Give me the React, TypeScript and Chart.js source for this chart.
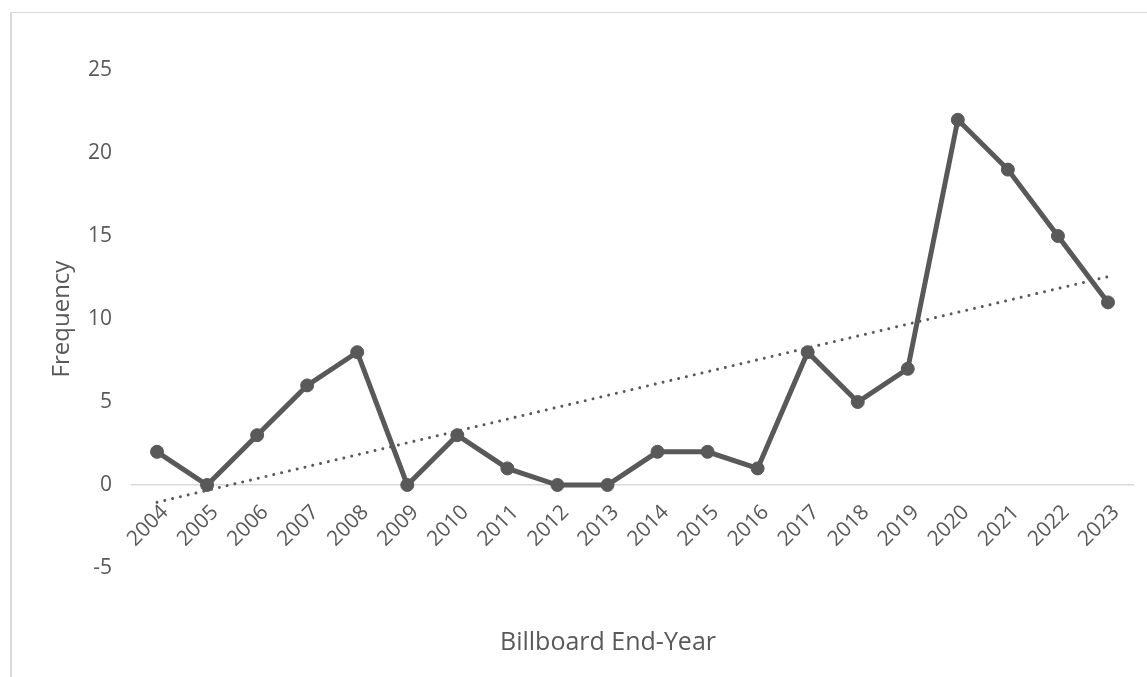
import React, { useEffect, useRef } from "react";
import { Chart, registerables } from "chart.js";

Chart.register(...registerables);

const years = ["2004","2005","2006","2007","2008","2009","2010","2011","2012","2013","2014","2015","2016","2017","2018","2019","2020","2021","2022","2023"];
const frequency = [2, 0, 3, 6, 8, 0, 3, 1, 0, 0, 2, 2, 1, 8, 5, 7, 22, 19, 15, 11];
const trendEnds = [-1.04, 12.55];
const yTicks = [-5, 0, 5, 10, 15, 20, 25];

const GREY = "#595959";
const FONT = "'Open Sans', 'DejaVu Sans', sans-serif";

export default function App() {
  const ref = useRef<HTMLCanvasElement | null>(null);

  useEffect(() => {
    if (!ref.current) return;
    const trendData = years.map((_, i) =>
      i === 0 ? trendEnds[0] : i === years.length - 1 ? trendEnds[1] : null
    );
    const chart = new Chart(ref.current, {
      type: "line",
      data: {
        labels: years,
        datasets: [
          {
            label: "Frequency",
            data: frequency,
            borderColor: GREY,
            backgroundColor: GREY,
            borderWidth: 5,
            pointRadius: 6.5,
            pointBorderWidth: 1,
            pointBackgroundColor: GREY,
            pointBorderColor: GREY,
            tension: 0,
            order: 2,
          },
          {
            label: "Trend",
            data: trendData,
            borderColor: GREY,
            borderWidth: 3,
            borderDash: [0.001, 8],
            borderCapStyle: "round",
            pointRadius: 0,
            spanGaps: true,
            tension: 0,
            order: 1,
          },
        ],
      },
      options: {
        responsive: false,
        animation: false,
        layout: { padding: { left: 83, right: 83, top: 70, bottom: 0 } },
        plugins: {
          legend: { display: false },
          tooltip: { enabled: false },
          title: {
            display: true,
            position: "bottom",
            text: "Billboard End-Year",
            color: GREY,
            font: { family: FONT, size: 25, weight: "normal" },
            padding: { top: 60, bottom: 19 },
          },
        },
        scales: {
          x: {
            type: "category",
            position: { y: 0 } as any,
            offset: true,
            grid: { display: false, drawTicks: false },
            border: { display: true, color: "#d9d9d9", width: 1.5 },
            ticks: {
              color: GREY,
              font: { family: FONT, size: 21 },
              maxRotation: 45,
              minRotation: 45,
              autoSkip: false,
              padding: 15,
              labelOffset: 8,
            },
          },
          y: {
            min: -5,
            max: 25,
            afterBuildTicks: (s: any) => {
              s.ticks = yTicks.map((v) => ({ value: v }));
            },
            afterFit: (s: any) => {
              s.width = 49;
            },
            grid: { display: false, drawTicks: false },
            border: { display: false },
            ticks: {
              color: GREY,
              font: { family: FONT, size: 21 },
              padding: 20,
            },
            title: {
              display: true,
              text: "Frequency",
              color: GREY,
              font: { family: FONT, size: 24 },
              padding: { top: -35, bottom: 4 },
            },
          },
        },
      },
    });
    return () => chart.destroy();
  }, []);

  return (
    <div style={{ position: "fixed", left: 0, top: 0, width: 1147, height: 677, overflow: "hidden", background: "#fff" }}>
      <div
        style={{
          position: "absolute",
          left: 10,
          top: 12,
          width: 2000,
          height: 2000,
          borderLeft: "2px solid #d9d9d9",
          borderTop: "1px solid #d9d9d9",
        }}
      />
      <canvas
        ref={ref}
        width={1216}
        height={677}
        style={{ position: "absolute", left: 0, top: 0, width: 1216, height: 677 }}
      />
    </div>
  );
}
